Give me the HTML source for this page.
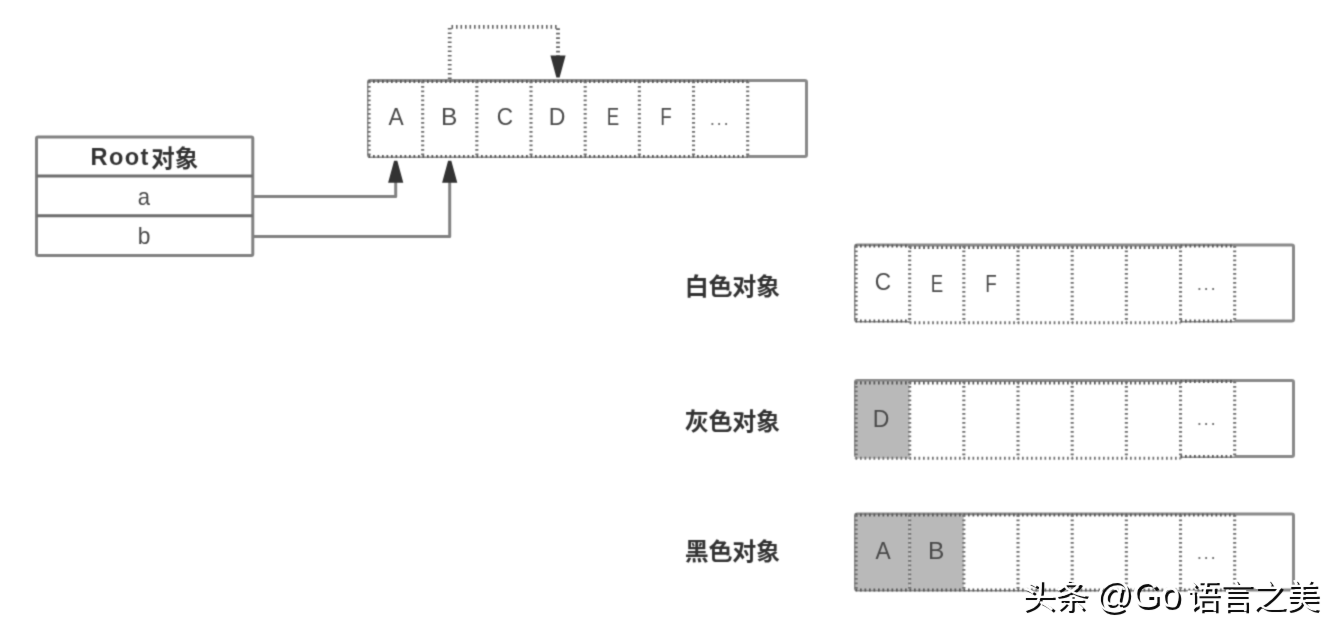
<!DOCTYPE html>
<html lang="zh">
<head>
<meta charset="utf-8">
<title>Root对象 / 白色对象 / 灰色对象 / 黑色对象</title>
<style>
html,body{margin:0;padding:0;background:#fff}
body{position:relative;width:1340px;height:634px;overflow:hidden;font-family:"Liberation Sans",sans-serif}
#stage{position:relative;width:1340px;height:634px;background:#fff;overflow:hidden;filter:url(#soft)}
#wm{position:absolute;left:0;top:0;width:1340px;height:634px;overflow:hidden;filter:url(#soft2)}
#stage svg,#wm svg{position:absolute;left:0;top:0;display:block}
.dt{fill:none;stroke:#707070;stroke-width:3.1;stroke-dasharray:1.7 2.8}
.dh{stroke:#585858}
#stage span,#wm span{position:absolute;white-space:nowrap;font-family:"Liberation Sans",sans-serif}
.l{width:100px;height:30px;line-height:30px;text-align:center;color:#4a4a4a}
.d{width:100px;height:30px;line-height:30px;text-align:center;color:#707070;letter-spacing:1.5px}
.b{height:30px;line-height:30px;font-weight:bold;color:#333;letter-spacing:1.4px}
.w{height:44px;line-height:44px;color:#fff;text-shadow:2.5px 2.5px 0 #0a0a0a;letter-spacing:0.3px}
.cjk{font-family:"Liberation Sans","Noto Sans CJK SC",sans-serif}
</style>
</head>
<body>
<svg width="0" height="0" style="position:absolute" aria-hidden="true"><filter id="soft" x="0" y="0" width="100%" height="100%" color-interpolation-filters="sRGB"><feConvolveMatrix order="3" kernelMatrix="0.0622 0.2494 0.0622 0.2494 1.0000 0.2494 0.0622 0.2494 0.0622" edgeMode="duplicate" preserveAlpha="true"/></filter><filter id="soft2" x="0" y="0" width="100%" height="100%" color-interpolation-filters="sRGB"><feConvolveMatrix order="3" kernelMatrix="0.0010 0.0313 0.0010 0.0313 1.0000 0.0313 0.0010 0.0313 0.0010" edgeMode="duplicate" preserveAlpha="false"/></filter></svg>
<div id="stage">
<svg width="1340" height="634" viewBox="0 0 1340 634">
<rect x="36.5" y="137" width="216.3" height="118.5" rx="1.5" fill="#fff" stroke="#828282" stroke-width="3"/>
<path d="M36.5 176H252.8M36.5 215.8H252.8" stroke="#6e6e6e" stroke-width="3" fill="none"/>
<path d="M254 196.4H395.7V181" fill="none" stroke="#828282" stroke-width="3" stroke-linejoin="round"/>
<path d="M254 236.5H449.7V181" fill="none" stroke="#828282" stroke-width="3" stroke-linejoin="round"/>
<rect x="368.5" y="80.5" width="438" height="76" rx="1.8" fill="#fff" stroke="#8a8a8a" stroke-width="3"/>
<rect x="368.5" y="82" width="54.17" height="74.5" fill="#fff"/>
<rect x="422.67" y="82" width="54.17" height="74.5" fill="#fff"/>
<rect x="476.84" y="82" width="54.17" height="74.5" fill="#fff"/>
<rect x="531.01" y="82" width="54.17" height="74.5" fill="#fff"/>
<rect x="585.18" y="82" width="54.17" height="74.5" fill="#fff"/>
<rect x="639.35" y="82" width="54.17" height="74.5" fill="#fff"/>
<rect x="693.52" y="82" width="54.17" height="74.5" fill="#fff"/>
<path class="dt dh" d="M368.5 81.5H747.69"/>
<path class="dt dh" d="M368.5 156.5H747.69"/>
<path class="dt" d="M369.1 81.5V156.5"/>
<path class="dt" d="M422.67 81.5V156.5"/>
<path class="dt" d="M476.84 81.5V156.5"/>
<path class="dt" d="M531.01 81.5V156.5"/>
<path class="dt" d="M585.18 81.5V156.5"/>
<path class="dt" d="M639.35 81.5V156.5"/>
<path class="dt" d="M693.52 81.5V156.5"/>
<path class="dt" d="M747.69 81.5V156.5"/>
<rect x="855.5" y="245" width="438" height="76" rx="1.8" fill="#fff" stroke="#8a8a8a" stroke-width="3"/>
<rect x="855.5" y="246.5" width="54.17" height="74.5" fill="#fff"/>
<rect x="909.67" y="248.5" width="54.17" height="74.5" fill="#fff"/>
<rect x="963.84" y="248.5" width="54.17" height="74.5" fill="#fff"/>
<rect x="1018.01" y="248.5" width="54.17" height="74.5" fill="#fff"/>
<rect x="1072.18" y="248.5" width="54.17" height="74.5" fill="#fff"/>
<rect x="1126.35" y="248.5" width="54.17" height="74.5" fill="#fff"/>
<rect x="1180.52" y="246.5" width="54.17" height="74.5" fill="#fff"/>
<path class="dt dh" d="M855.5 246H909.67"/>
<path class="dt dh" d="M855.5 321H909.67"/>
<path class="dt dh" d="M909.67 247.4H1180.52"/>
<path class="dt" d="M909.67 322.7H1180.52"/>
<path class="dt dh" d="M1180.52 246H1234.69"/>
<path class="dt dh" d="M1180.52 321H1234.69"/>
<path class="dt" d="M856.1 246V321"/>
<path class="dt" d="M909.67 246V323"/>
<path class="dt" d="M963.84 246V323"/>
<path class="dt" d="M1018.01 246V323"/>
<path class="dt" d="M1072.18 246V323"/>
<path class="dt" d="M1126.35 246V323"/>
<path class="dt" d="M1180.52 246V323"/>
<path class="dt" d="M1234.69 246V321"/>
<rect x="855.5" y="380.5" width="438" height="76" rx="1.8" fill="#fff" stroke="#8a8a8a" stroke-width="3"/>
<rect x="855.5" y="381.5" width="54.17" height="77" fill="#b9b9b9"/>
<rect x="909.67" y="384" width="54.17" height="74.5" fill="#fff"/>
<rect x="963.84" y="384" width="54.17" height="74.5" fill="#fff"/>
<rect x="1018.01" y="384" width="54.17" height="74.5" fill="#fff"/>
<rect x="1072.18" y="384" width="54.17" height="74.5" fill="#fff"/>
<rect x="1126.35" y="384" width="54.17" height="74.5" fill="#fff"/>
<rect x="1180.52" y="382" width="54.17" height="74.5" fill="#fff"/>
<path class="dt dh" d="M855.5 382.9H1180.52"/>
<path class="dt" d="M855.5 458.2H1180.52"/>
<path class="dt dh" d="M1180.52 381.5H1234.69"/>
<path class="dt dh" d="M1180.52 456.5H1234.69"/>
<path class="dt" d="M856.1 381.5V458.5"/>
<path class="dt" d="M909.67 381.5V458.5"/>
<path class="dt" d="M963.84 381.5V458.5"/>
<path class="dt" d="M1018.01 381.5V458.5"/>
<path class="dt" d="M1072.18 381.5V458.5"/>
<path class="dt" d="M1126.35 381.5V458.5"/>
<path class="dt" d="M1180.52 381.5V458.5"/>
<path class="dt" d="M1234.69 381.5V456.5"/>
<rect x="855.5" y="514" width="438" height="76" rx="1.8" fill="#fff" stroke="#8a8a8a" stroke-width="3"/>
<rect x="855.5" y="515" width="54.17" height="75" fill="#b9b9b9"/>
<rect x="909.67" y="515" width="54.17" height="75" fill="#b9b9b9"/>
<rect x="963.84" y="515.5" width="54.17" height="74.5" fill="#fff"/>
<rect x="1018.01" y="515.5" width="54.17" height="74.5" fill="#fff"/>
<rect x="1072.18" y="515.5" width="54.17" height="74.5" fill="#fff"/>
<rect x="1126.35" y="515.5" width="54.17" height="74.5" fill="#fff"/>
<rect x="1180.52" y="515.5" width="54.17" height="74.5" fill="#fff"/>
<path class="dt dh" d="M855.5 515H1234.69"/>
<path class="dt dh" d="M855.5 590H1234.69"/>
<path class="dt" d="M856.1 515V590"/>
<path class="dt" d="M909.67 515V590"/>
<path class="dt" d="M963.84 515V590"/>
<path class="dt" d="M1018.01 515V590"/>
<path class="dt" d="M1072.18 515V590"/>
<path class="dt" d="M1126.35 515V590"/>
<path class="dt" d="M1180.52 515V590"/>
<path class="dt" d="M1234.69 515V590"/>
<path d="M449.7 79V26.8H558V56" fill="none" stroke="#666" stroke-width="3.8" stroke-dasharray="1.6 2.9"/>
<path d="M-1.6 0H1.6L7.6 22H-7.6Z" fill="#333" transform="translate(395.7 160.7)"/>
<path d="M-1.6 0H1.6L7.6 22H-7.6Z" fill="#333" transform="translate(449.7 160.7)"/>
<path d="M-1.6 0H1.6L7.6 22H-7.6Z" fill="#333" transform="translate(558 77.5) scale(1 -1)"/>
<text class="cjk" x="151.2" y="166.5" font-size="23.5" font-weight="bold" fill="#333" textLength="47" lengthAdjust="spacing">对象</text>
<text class="cjk" x="684.7" y="294.6" font-size="24" font-weight="bold" fill="#333" textLength="95.2" lengthAdjust="spacing">白色对象</text>
<text class="cjk" x="684.7" y="429.6" font-size="24" font-weight="bold" fill="#333" textLength="95.2" lengthAdjust="spacing">灰色对象</text>
<text class="cjk" x="684.7" y="560.4" font-size="24" font-weight="bold" fill="#333" textLength="95.2" lengthAdjust="spacing">黑色对象</text>
</svg>
<span class="l" style="left:345.88px;top:102.11px;font-size:24.5px;transform:scaleX(0.93)">A</span>
<span class="l" style="left:399.06px;top:102.11px;font-size:24.5px">B</span>
<span class="l" style="left:454.73px;top:102.11px;font-size:24.5px;transform:scaleX(0.92)">C</span>
<span class="l" style="left:506.89px;top:102.11px;font-size:24.5px;transform:scaleX(0.94)">D</span>
<span class="l" style="left:562.76px;top:102.11px;font-size:24.5px;transform:scaleX(0.76)">E</span>
<span class="l" style="left:616.23px;top:102.11px;font-size:24.5px;transform:scaleX(0.77)">F</span>
<span class="d" style="left:670px;top:104.22px;font-size:19px">...</span>
<span class="l" style="left:833.38px;top:266.61px;font-size:24.5px;transform:scaleX(0.92)">C</span>
<span class="l" style="left:887.25px;top:268.61px;font-size:24.5px;transform:scaleX(0.76)">E</span>
<span class="l" style="left:940.72px;top:268.61px;font-size:24.5px;transform:scaleX(0.77)">F</span>
<span class="d" style="left:1157.01px;top:268.72px;font-size:19px">...</span>
<span class="l" style="left:831.38px;top:404.11px;font-size:24.5px;transform:scaleX(0.94)">D</span>
<span class="d" style="left:1157.01px;top:404.22px;font-size:19px">...</span>
<span class="l" style="left:832.88px;top:535.61px;font-size:24.5px;transform:scaleX(0.93)">A</span>
<span class="l" style="left:886.05px;top:535.61px;font-size:24.5px">B</span>
<span class="d" style="left:1157.01px;top:537.72px;font-size:19px">...</span>
<span class="l" style="left:94px;top:181.88px;font-size:24px;transform:scaleX(0.92)">a</span>
<span class="l" style="left:94.2px;top:221.28px;font-size:24px;transform:scaleX(0.95)">b</span>
<span class="b" style="left:90.5px;top:141.82px;font-size:23.6px">Root</span>
</div>
<div id="wm">
<svg width="1340" height="634" viewBox="0 0 1340 634">
<text class="cjk" x="1024.05" y="610" font-size="33.5" fill="#0a0a0a" textLength="66.3" lengthAdjust="spacing">头条</text>
<text class="cjk" x="1021.55" y="607.5" font-size="33.5" fill="#fff" textLength="66.3" lengthAdjust="spacing">头条</text>
<text class="cjk" x="1188.8" y="610" font-size="33.5" fill="#0a0a0a" textLength="132.6" lengthAdjust="spacing">语言之美</text>
<text class="cjk" x="1186.3" y="607.5" font-size="33.5" fill="#fff" textLength="132.6" lengthAdjust="spacing">语言之美</text>
</svg>
<span class="w" style="left:1095.2px;top:572.83px;font-size:36px">@Go</span>
</div>
</body>
</html>
